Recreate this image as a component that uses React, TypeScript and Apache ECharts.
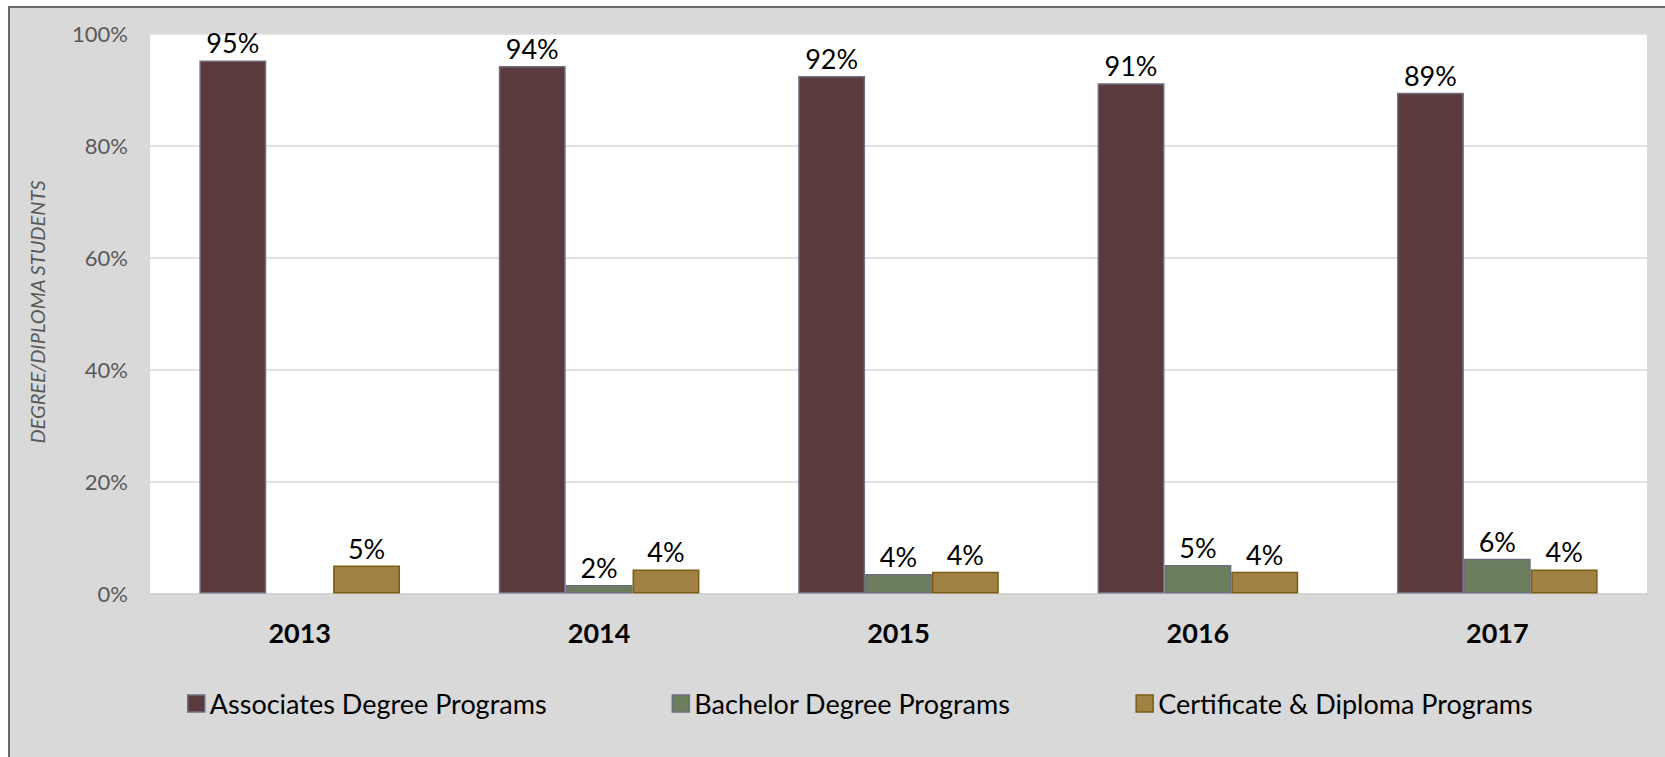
import React, { useEffect, useRef } from "react";
import * as echarts from "echarts";

const years = ["2013", "2014", "2015", "2016", "2017"];
const associates = [95.2, 94.2, 92.4, 91.1, 89.4];
const bachelor: (number | null)[] = [null, 1.5, 3.5, 5.1, 6.2];
const certificate = [5.0, 4.3, 3.9, 3.9, 4.3];
const yTicks = [0, 20, 40, 60, 80, 100];
const seriesNames = [
  "Associates Degree Programs",
  "Bachelor Degree Programs",
  "Certificate & Diploma Programs",
];
const yTitle = "DEGREE/DIPLOMA STUDENTS";

const FONT = "Lato, 'Open Sans', sans-serif";

export default function App() {
  const ref = useRef<HTMLDivElement>(null);
  useEffect(() => {
    document.body.style.margin = "0";
    document.body.style.overflow = "hidden";
    const chart = echarts.init(ref.current!, null, { renderer: "svg" });
    const label = {
      show: true,
      position: "top" as const,
      distance: 4,
      fontSize: 27,
      fontFamily: FONT,
      color: "#000",
      formatter: (p: any) => Math.round(p.value) + "%",
    };
    const mk = (name: string, data: any[], fill: string, stroke: string) => ({
      name,
      type: "bar",
      data,
      barGap: "0%",
      barCategoryGap: "33%",
      itemStyle: { color: fill, borderColor: stroke, borderWidth: 1.5 },
      label,
    });
    chart.setOption({
      animation: false,
      backgroundColor: "#ffffff",
      textStyle: { fontFamily: FONT },
      graphic: [
        {
          type: "rect",
          z: -10,
          silent: true,
          shape: { x: 8, y: 7, width: 1657, height: 750 },
          style: { fill: "#d9d9d9" },
        },
        {
          type: "line",
          z: -9,
          shape: { x1: 9, y1: 7, x2: 9, y2: 757 },
          style: { stroke: "#6a6a6a", lineWidth: 2 },
        },
        {
          type: "line",
          z: -9,
          shape: { x1: 8, y1: 7, x2: 1665, y2: 7 },
          style: { stroke: "#6a6a6a", lineWidth: 2 },
        },
        {
          type: "text",
          x: 37,
          y: 312,
          rotation: Math.PI / 2,
          style: {
            text: yTitle,
            fontSize: 20,
            fontStyle: "italic",
            fontFamily: FONT,
            fill: "#595959",
            align: "center",
            verticalAlign: "middle",
          },
        },
      ],
      grid: {
        left: 150,
        right: 18,
        top: 33.5,
        bottom: 163.5,
        show: true,
        backgroundColor: "#ffffff",
        borderWidth: 0,
      },
      legend: {
        data: seriesNames,
        left: 187,
        top: 690,
        padding: 0,
        icon: "rect",
        itemWidth: 17,
        itemHeight: 17,
        itemGap: 125,
        itemStyle: { borderWidth: 1.5 },
        textStyle: { fontSize: 27, fontFamily: FONT, color: "#000" },
      },
      xAxis: {
        type: "category",
        data: years,
        axisTick: { show: false },
        axisLine: { show: true, lineStyle: { color: "#d0d0d0", width: 1.5 } },
        axisLabel: {
          margin: 25,
          fontSize: 27,
          fontWeight: "bold",
          fontFamily: FONT,
          color: "#000",
        },
      },
      yAxis: {
        type: "value",
        min: yTicks[0],
        max: yTicks[yTicks.length - 1],
        interval: 20,
        axisLine: { show: false },
        axisTick: { show: false },
        splitLine: { lineStyle: { color: "#d9d9d9", width: 1.5 } },
        axisLabel: {
          formatter: "{value}%",
          margin: 22,
          fontSize: 22,
          fontFamily: FONT,
          color: "#595959",
        },
      },
      series: [
        mk(seriesNames[0], associates, "#5b3a3e", "#6b6f80"),
        mk(seriesNames[1], bachelor, "#6d7e5f", "#6b6f80"),
        mk(seriesNames[2], certificate, "#9f8244", "#7b5c12"),
      ],
    });
    return () => chart.dispose();
  }, []);
  return (
    <div
      ref={ref}
      style={{ position: "fixed", left: 0, top: 0, width: 1665, height: 757 }}
    />
  );
}
